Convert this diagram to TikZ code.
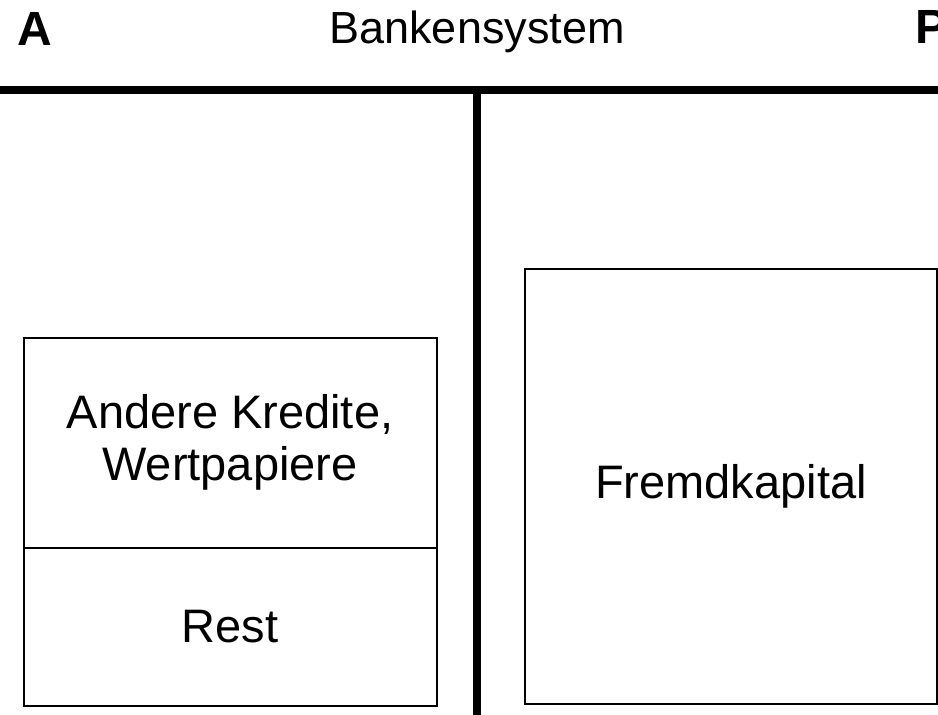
\documentclass[tikz,border=0pt]{standalone}
\usepackage{fontspec}
\setmainfont{Liberation Sans}
\begin{document}
\begin{tikzpicture}[x=1pt,y=-1pt,
  cell/.style={draw=black,line width=2pt,rectangle,inner sep=0pt,align=center,
    font=\fontsize{47}{52}\selectfont},
  thick bar/.style={line width=8pt,black},
  head/.style={inner sep=0pt,font=\fontsize{45}{50}\selectfont},
  side/.style={inner sep=0pt,anchor=base west,font=\fontsize{48}{54}\selectfont\bfseries}]
\useasboundingbox (0,0) rectangle (938,715);
\coordinate (hl) at (0,90);
\coordinate (hr) at (938,90);
\coordinate (vt) at (477,90);
\coordinate (vb) at (477,715);
\draw[thick bar] (hl) -- (hr);
\draw[thick bar] (vt) -- (vb);
\node[side] (a) at (17,45) {A};
\node[side] (p) at (915,43) {P};
\node[head,anchor=base] (title) at (477,43) {Bankensystem};
\node[cell,minimum width=413pt,minimum height=210.5pt] (up) at (230,442.75) {Andere Kredite,\\Wertpapiere};
\node[cell,minimum width=413pt,minimum height=158pt] (rest) at (230,627) {Rest};
\node[cell,minimum width=412pt,minimum height=435pt] (fk) at (731,486.5) {Fremdkapital};
\end{tikzpicture}
\end{document}
